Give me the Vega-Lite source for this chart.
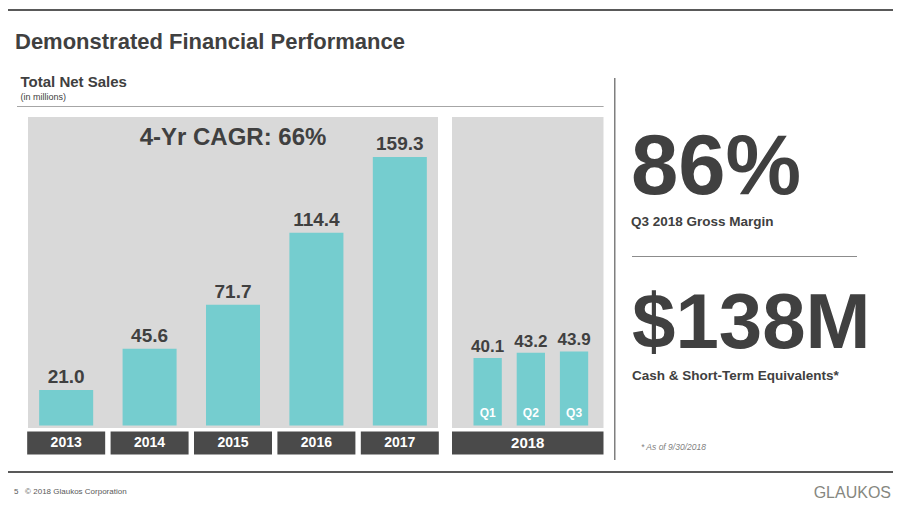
{
  "$schema": "https://vega.github.io/schema/vega-lite/v6.json",
  "background": "white",
  "padding": {"left": 8, "top": 9, "right": 0, "bottom": 0},
  "config": {
    "font": "Liberation Sans",
    "view": {"stroke": null},
    "title": {"font": "Liberation Sans", "subtitleFont": "Liberation Sans", "anchor": "start", "frame": "group", "color": "#404040", "subtitleColor": "#404040"}
  },
  "datasets": {
    "annual": [
      {"year": "2013", "sales": 21.0},
      {"year": "2014", "sales": 45.6},
      {"year": "2015", "sales": 71.7},
      {"year": "2016", "sales": 114.4},
      {"year": "2017", "sales": 159.3}
    ],
    "quarterly": [
      {"quarter": "Q1", "sales": 40.1},
      {"quarter": "Q2", "sales": 43.2},
      {"quarter": "Q3", "sales": 43.9}
    ]
  },
  "spacing": 0,
  "vconcat": [
    {
      "width": 885, "height": 2,
      "data": {"values": []}, "mark": "point",
      "view": {"fill": "#595959", "stroke": null},
      "title": {"text": "Demonstrated Financial Performance", "orient": "bottom", "offset": 20.6, "fontSize": 22, "fontWeight": "bold", "dx": 7}
    },
    {"width": 1, "height": 20.5, "data": {"values": []}, "mark": "point", "view": {"fill": "white", "stroke": null}},
    {
      "spacing": 0,
      "hconcat": [
        {"width": 9, "height": 1, "data": {"values": []}, "mark": "point", "view": {"fill": "white", "stroke": null}},
        {
          "spacing": 0,
          "vconcat": [
            {
              "width": 586.6, "height": 1,
              "data": {"values": []}, "mark": "point",
              "view": {"fill": "white", "stroke": null},
              "title": {"text": "Total Net Sales", "subtitle": "(in millions)", "orient": "bottom", "fontSize": 15, "fontWeight": "bold", "subtitleFontSize": 9, "subtitleFontWeight": "normal", "subtitlePadding": 2.75, "offset": 0, "dx": 3.5}
            },
            {"width": 1, "height": 3.75, "data": {"values": []}, "mark": "point", "view": {"fill": "white", "stroke": null}},
            {"width": 586.6, "height": 1, "data": {"values": []}, "mark": "point", "view": {"fill": "#a6a6a6", "stroke": null}},
            {"width": 1, "height": 9.5, "data": {"values": []}, "mark": "point", "view": {"fill": "white", "stroke": null}},
            {
              "spacing": 0,
              "hconcat": [
                {"width": 10, "height": 1, "data": {"values": []}, "mark": "point", "view": {"fill": "white", "stroke": null}},
                {
                  "width": 410, "height": 311,
                  "view": {"fill": "#d9d9d9", "stroke": null},
                  "data": {"name": "annual"},
                  "encoding": {
                    "x": {"field": "year", "type": "ordinal", "axis": null, "scale": {"paddingInner": 0.3525, "paddingOuter": 0.134, "align": 0.5}}
                  },
                  "layer": [
                    {
                      "mark": {"type": "bar", "color": "#75cdcf"},
                      "encoding": {
                        "y": {"field": "sales", "type": "quantitative", "axis": null, "scale": {"domain": [-1.48, 183.0], "nice": false, "zero": false}},
                        "y2": {"datum": 0}
                      }
                    },
                    {
                      "mark": {"type": "text", "fontSize": 19, "fontWeight": "bold", "color": "#404040", "baseline": "alphabetic", "dy": -7},
                      "encoding": {
                        "y": {"field": "sales", "type": "quantitative"},
                        "text": {"field": "sales", "type": "quantitative", "format": ".1f"}
                      }
                    },
                    {
                      "mark": {"type": "bar", "color": "#4a4a4a", "width": 78},
                      "encoding": {"y": {"datum": -3.56}, "y2": {"datum": -17.2}}
                    },
                    {
                      "mark": {"type": "text", "fontSize": 14, "fontWeight": "bold", "color": "white"},
                      "encoding": {"y": {"datum": -10.38}, "text": {"field": "year"}}
                    },
                    {
                      "data": {"values": [{"note": "4-Yr CAGR: 66%"}]},
                      "mark": {"type": "text", "fontSize": 24, "fontWeight": "bold", "color": "#404040", "baseline": "alphabetic"},
                      "encoding": {"x": {"datum": "2015"}, "y": {"datum": 166.4}, "text": {"field": "note"}}
                    }
                  ]
                },
                {"width": 12.5, "height": 1, "data": {"values": []}, "mark": "point", "view": {"fill": "white", "stroke": null}},
                {
                  "width": 151.5, "height": 311,
                  "view": {"fill": "#d9d9d9", "stroke": null},
                  "data": {"name": "quarterly"},
                  "layer": [
                    {
                      "mark": {"type": "bar", "color": "#75cdcf"},
                      "encoding": {
                        "x": {"field": "quarter", "type": "ordinal", "axis": null, "scale": {"paddingInner": 0.345, "paddingOuter": 0.426, "align": 0.584}},
                        "y": {"field": "sales", "type": "quantitative", "axis": null, "scale": {"domain": [-1.48, 183.0], "nice": false, "zero": false}},
                        "y2": {"datum": 0}
                      }
                    },
                    {
                      "mark": {"type": "text", "fontSize": 17, "fontWeight": "bold", "color": "#404040", "baseline": "alphabetic", "dy": -6},
                      "encoding": {
                        "x": {"field": "quarter", "type": "ordinal"},
                        "y": {"field": "sales", "type": "quantitative"},
                        "text": {"field": "sales", "type": "quantitative", "format": ".1f"}
                      }
                    },
                    {
                      "mark": {"type": "text", "fontSize": 12, "fontWeight": "bold", "color": "white", "baseline": "alphabetic", "dy": -9},
                      "encoding": {
                        "x": {"field": "quarter", "type": "ordinal"},
                        "y": {"datum": 0},
                        "text": {"field": "quarter"}
                      }
                    },
                    {
                      "data": {"values": [{"period": "2018"}]},
                      "mark": {"type": "rect", "color": "#4a4a4a"},
                      "encoding": {"y": {"datum": -3.56}, "y2": {"datum": -17.2}}
                    },
                    {
                      "data": {"values": [{"period": "2018"}]},
                      "mark": {"type": "text", "fontSize": 15, "fontWeight": "bold", "color": "white"},
                      "encoding": {"y": {"datum": -10.38}, "text": {"field": "period"}}
                    }
                  ]
                }
              ]
            }
          ]
        },
        {"width": 9.4, "height": 1, "data": {"values": []}, "mark": "point", "view": {"fill": "white", "stroke": null}},
        {
          "spacing": 0,
          "vconcat": [
            {"width": 1.5, "height": 4, "data": {"values": []}, "mark": "point", "view": {"fill": "white", "stroke": null}},
            {"width": 1.5, "height": 382, "data": {"values": []}, "mark": "point", "view": {"fill": "#7f7f7f", "stroke": null}}
          ]
        },
        {"width": 14.5, "height": 1, "data": {"values": []}, "mark": "point", "view": {"fill": "white", "stroke": null}},
        {
          "spacing": 0,
          "vconcat": [
            {"width": 225, "height": 50.8, "data": {"values": []}, "mark": "point", "view": {"fill": "white", "stroke": null}},
            {
              "width": 225, "height": 1,
              "data": {"values": []}, "mark": "point",
              "view": {"fill": "#8c8c8c", "stroke": null},
              "title": {"text": "86%", "subtitle": "Q3 2018 Gross Margin", "fontSize": 85, "fontWeight": "bold", "subtitleFontSize": 13.5, "subtitleFontWeight": "bold", "subtitlePadding": 3.5, "offset": 26.2, "dx": -1}
            },
            {"width": 225, "height": 27.4, "data": {"values": []}, "mark": "point", "view": {"fill": "white", "stroke": null}},
            {
              "width": 225, "height": 2,
              "data": {"values": []}, "mark": "point",
              "view": {"fill": "white", "stroke": null},
              "title": {"text": "$138M", "subtitle": "Cash & Short-Term Equivalents*", "fontSize": 78, "fontWeight": "bold", "subtitleFontSize": 13.5, "subtitleFontWeight": "bold", "subtitlePadding": 4.9, "offset": 1, "dx": 0}
            },
            {
              "width": 225, "height": 55,
              "data": {"values": []}, "mark": "point",
              "view": {"fill": "white", "stroke": null},
              "title": {"text": "* As of 9/30/2018", "orient": "bottom", "fontSize": 8.5, "fontStyle": "italic", "fontWeight": "normal", "color": "#7f7f7f", "offset": 2.5, "dx": 9}
            }
          ]
        }
      ]
    },
    {"width": 1, "height": 11, "data": {"values": []}, "mark": "point", "view": {"fill": "white", "stroke": null}},
    {
      "spacing": 0,
      "hconcat": [
        {
          "width": 785, "height": 2,
          "data": {"values": []}, "mark": "point",
          "view": {"fill": "#595959", "stroke": null},
          "title": {"text": "5\u00a0\u00a0\u00a0© 2018 Glaukos Corporation", "orient": "bottom", "fontSize": 8, "fontWeight": "normal", "color": "#595959", "offset": 14.7, "dx": 6}
        },
        {
          "width": 100, "height": 2,
          "data": {"values": []}, "mark": "point",
          "view": {"fill": "#595959", "stroke": null},
          "title": {"text": "GLAUKOS", "orient": "bottom", "anchor": "end", "fontSize": 16, "fontWeight": "normal", "color": "#86877f", "offset": 11.5, "dx": -2}
        }
      ]
    }
  ]
}
